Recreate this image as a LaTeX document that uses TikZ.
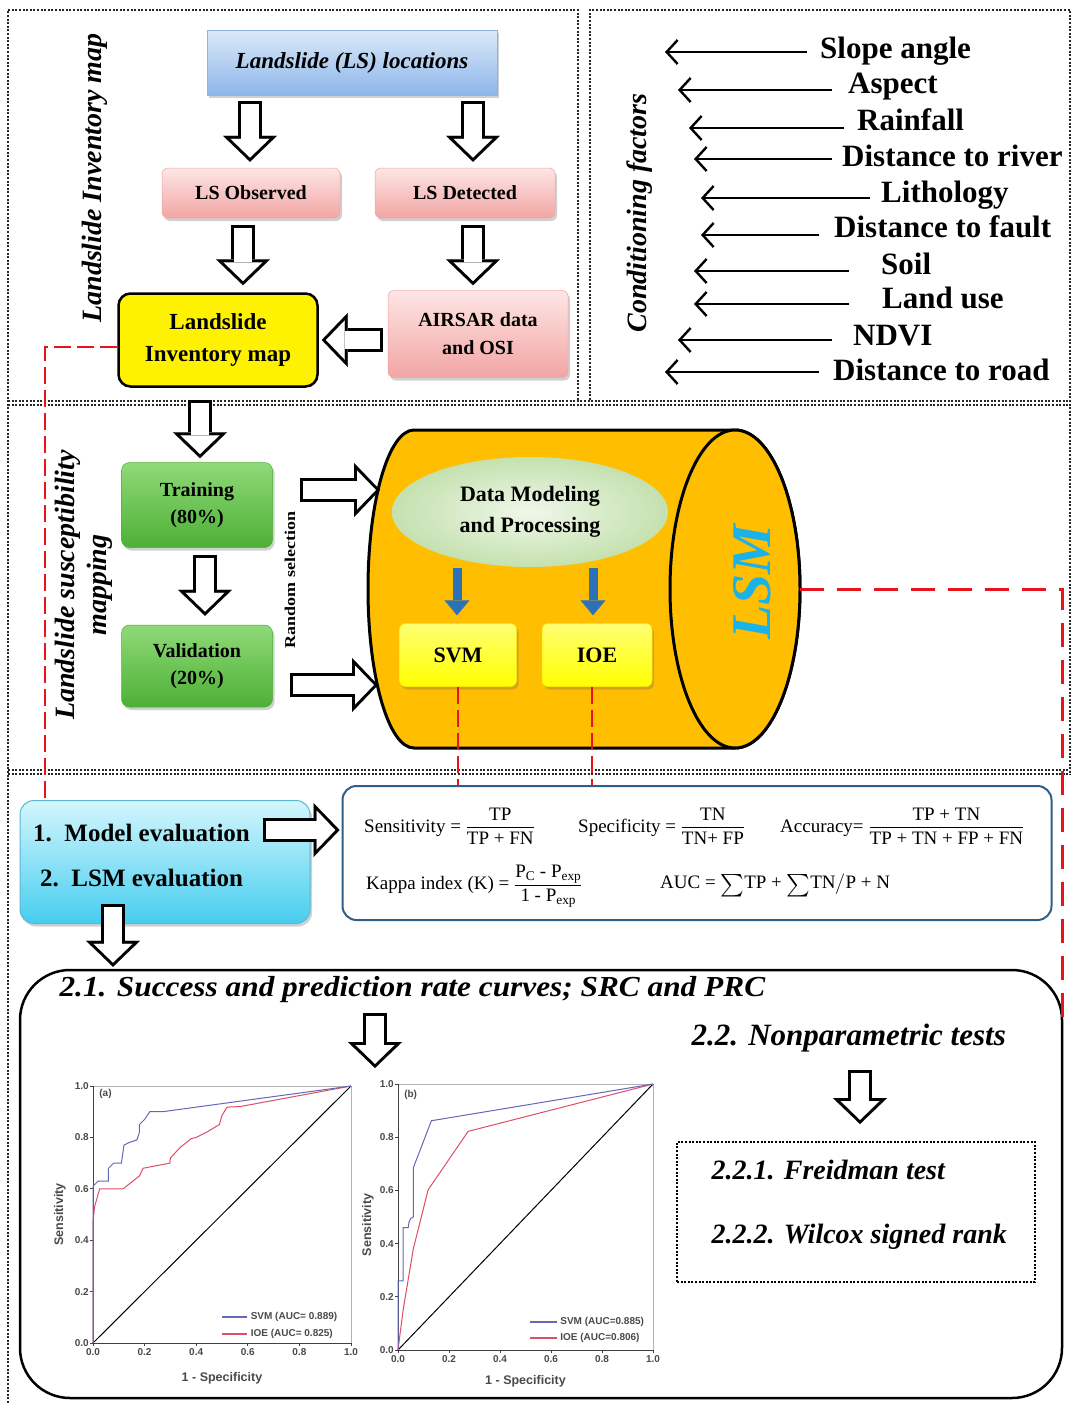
\documentclass[tikz,border=0pt]{standalone}
\usepackage{fontspec}
\setmainfont{Liberation Serif}
\setsansfont{Liberation Sans}
\usepackage{amsmath}
\usetikzlibrary{arrows.meta,shapes.geometric,shadows,calc}
\definecolor{blueT}{HTML}{DCE9F8}
\definecolor{blueB}{HTML}{8DB6EA}
\definecolor{blueD}{HTML}{8DB3E2}
\definecolor{pinkT}{HTML}{FDE6E5}
\definecolor{pinkB}{HTML}{F2A5A4}
\definecolor{greenT}{HTML}{8FDA78}
\definecolor{greenB}{HTML}{4DB036}
\definecolor{cyanT}{HTML}{D4F6FD}
\definecolor{cyanB}{HTML}{46CDEF}
\definecolor{cyanD}{HTML}{5AB8D3}
\definecolor{cylC}{HTML}{FFBF00}
\definecolor{lsmC}{HTML}{1AB2E8}
\definecolor{arrB}{HTML}{2C72B8}
\definecolor{redL}{HTML}{E8141B}
\definecolor{dmIn}{HTML}{F0F7E9}
\definecolor{dmOut}{HTML}{C4E1AF}
\definecolor{formD}{HTML}{2F5E88}
\definecolor{svmC}{HTML}{6468B8}
\definecolor{ioeC}{HTML}{DE4E66}
\definecolor{plotT}{HTML}{4A4A4A}
\newcommand\harr[2]{%
 \draw[line width=24pt,-{Triangle[length=26pt,width=54pt,line width=0.1pt]}] #1 -- #2;
 \draw[white,line width=18pt,-{Triangle[length=18.8pt,width=39pt,line width=0.1pt]},shorten <=3pt,shorten >=4.2pt] #1 -- #2;}
\newcommand\bigsum{\raisebox{-3pt}{\scalebox{1.3}{$\sum$}}}
\begin{document}
\begin{tikzpicture}[x=1pt,y=1pt,
 dotfr/.style={line width=2pt,dash pattern=on 2pt off 1.6pt,black!85},
 softshadow/.style={drop shadow={shadow xshift=2pt,shadow yshift=-3pt,opacity=0.3,fill=black!60}},
 pinkbox/.style={rounded corners=6pt,top color=pinkT,bottom color=pinkB,draw=pinkB,line width=0.5pt,softshadow,font=\fontsize{20}{28}\selectfont\bfseries,align=center,inner sep=0pt},
 greenbox/.style={rounded corners=8pt,top color=greenT,bottom color=greenB,draw=greenB,line width=0.5pt,softshadow,font=\fontsize{20}{27}\selectfont\bfseries,align=center,inner sep=0pt},
 yelbox/.style={rounded corners=6pt,top color=yellow!55,bottom color=yellow,draw=yellow!90!orange,line width=0.5pt,softshadow,font=\fontsize{22}{26}\selectfont\bfseries,inner sep=0pt},
 fact/.style={font=\fontsize{31}{34}\selectfont\bfseries,inner sep=0pt},
 farrow/.style={line width=2.4pt,-{Straight Barb[length=11pt,width=24pt,line width=2.4pt]}},
 redthin/.style={redL,line width=2pt,dash pattern=on 17pt off 6pt},
 redthick/.style={redL,line width=3pt,dash pattern=on 24pt off 13pt},
 bluearr/.style={arrB,line width=9pt,-{Triangle[length=15pt,width=25pt,line width=0.1pt]}},
 fml/.style={font=\fontsize{19}{22}\selectfont,inner sep=0pt},
 ticklab/.style={font=\sffamily\bfseries\fontsize{10}{12}\selectfont,text=plotT,inner sep=1pt},
 axlab/.style={font=\sffamily\bfseries\fontsize{12.5}{14}\selectfont,text=plotT,inner sep=0pt},
 leglab/.style={font=\sffamily\bfseries\fontsize{10}{12}\selectfont,text=plotT,anchor=west,inner sep=1pt},
]
\useasboundingbox (0,0) rectangle (1073,-1403);
\fill[white] (0,0) rectangle (1073,-1403);

% ---------- frames
\draw[dotfr] (8,-1403) -- (8,-10) -- (578,-10) -- (578,-400);
\draw[dotfr] (590,-400) -- (590,-10) -- (1070,-10) -- (1070,-775);
\foreach \yy in {401,405,770,774} \draw[dotfr] (8,-\yy) -- (1070,-\yy);

% ---------- top-left: inventory
\node[rotate=90,font=\fontsize{28}{32}\selectfont\bfseries\itshape] (tlab) at (95,-178) {Landslide Inventory map};
\node[minimum width=290pt,minimum height=65pt,top color=blueT,bottom color=blueB,draw=blueD,line width=0.6pt,softshadow,font=\fontsize{23}{26}\selectfont\bfseries\itshape,inner sep=0pt] (loc) at (352,-62.5) {Landslide (LS) locations};
\node[pinkbox,minimum width=178pt,minimum height=50pt] (obs) at (251,-193) {LS Observed};
\node[pinkbox,minimum width=180pt,minimum height=50pt] (det) at (465,-193) {LS Detected};
\node[pinkbox,minimum width=180pt,minimum height=87pt] (air) at (478,-334) {AIRSAR data\\and OSI};
\node[draw,line width=2.5pt,fill=yellow,rounded corners=12pt,minimum width=199pt,minimum height=93pt,align=center,font=\fontsize{23}{32}\selectfont\bfseries,inner sep=0pt] (inv) at (218,-340) {Landslide\\Inventory map};

\harr{($(loc.south -| obs.north)+(-1,-6)$)}{($(obs.north)+(-1,6)$)}
\harr{($(loc.south -| det.north)+(8,-6)$)}{($(det.north)+(8,6)$)}
\harr{($(obs.south)+(-8,-7)$)}{($(obs.south |- inv.north)+(-8,7)$)}
\harr{($(det.south)+(8,-7)$)}{($(det.south |- air.north)+(8,5)$)}
\harr{($(air.west |- inv.east)+(-5,0)$)}{($(inv.east)+(3,0)$)}

% ---------- top-right: conditioning factors
\node[rotate=90,font=\fontsize{28}{32}\selectfont\bfseries\itshape] (cf) at (640,-213) {Conditioning factors};
\foreach \t/\x/\b/\y/\l/\r [count=\i] in {Slope angle/820/58/52/665/807,Aspect/848/93/90/678/832,Rainfall/857/130/128/689/844,Distance to river/842/166/159/694/832,Lithology/881/202/198/701/870,Distance to fault/834/237/235/701/819,Soil/881/274/271/694/849,Land use/882/308/304/694/849,NDVI/853/345/340/678/832,Distance to road/833/380/372/665/819}{
 \node[fact,anchor=base west] (f\i) at (\x,-\b) {\t};
 \draw[farrow] ($(f\i.base west)+(\r-\x,\b-\y)$) -- ++(\l-\r,0);
}

% ---------- middle: susceptibility mapping
\node[rotate=90,align=center,font=\fontsize{28}{32}\selectfont\bfseries\itshape] (lsmlab) at (84,-585) {Landslide susceptibility\\mapping};
\node[greenbox,minimum width=151pt,minimum height=85pt] (train) at (197,-505) {Training\\(80\%)};
\node[greenbox,minimum width=151pt,minimum height=82pt] (valid) at (197,-666) {Validation\\(20\%)};
\node[rotate=90,font=\fontsize{15}{18}\selectfont\bfseries] (rs) at (290,-580) {\scalebox{1.2}[1]{Random selection}};

\draw[line width=3pt,fill=cylC] (414,-430) arc[start angle=90,end angle=270,x radius=46pt,y radius=159pt] -- (735,-748) arc[start angle=-90,end angle=90,x radius=65pt,y radius=159pt] -- cycle;
\draw[line width=3pt,fill=cylC] (735,-589) ellipse[x radius=65pt,y radius=159pt];
\coordinate (cylE) at (800,-589);
\coordinate (cylW1) at (380,-490);
\coordinate (cylW2) at (378,-685);

\node[ellipse,minimum width=276pt,minimum height=110pt,inner color=dmIn,outer color=dmOut,align=center,font=\fontsize{22}{31}\selectfont\bfseries,inner sep=0pt] (dm) at (530,-512) {Data Modeling\\and Processing};
\node[yelbox,minimum width=117pt,minimum height=63pt] (svm) at (458,-655) {SVM};
\node[yelbox,minimum width=110pt,minimum height=63pt] (ioe) at (597,-655) {IOE};
\draw[bluearr] ($(svm.north |- dm.south)+(-1,-1)$) -- ($(svm.north)+(-1,8)$);
\draw[bluearr] ($(ioe.north |- dm.south)+(-4,-1)$) -- ($(ioe.north)+(-4,8)$);
\node[rotate=90,text=lsmC,font=\fontsize{56}{60}\selectfont\bfseries\itshape] (lsm) at (752,-582) {LSM};

\harr{($(inv.south)+(-18,-12)$)}{($(train.north)+(3,4)$)}
\harr{($(train.south)+(8,-7)$)}{($(valid.north)+(8,9)$)}
\harr{($(train.east)+(27,15)$)}{(cylW1)}
\harr{($(valid.east)+(17,-19)$)}{(cylW2)}

% ---------- bottom: evaluation
\node[rounded corners=14pt,top color=cyanT,bottom color=cyanB,draw=cyanD,line width=1pt,minimum width=290pt,minimum height=123pt,softshadow] (evalbox) at (165,-862) {};
\node[anchor=west,font=\fontsize{25}{28}\selectfont\bfseries,inner sep=0pt] (ev1) at (33,-833) {1.\ \ Model evaluation};
\node[anchor=west,font=\fontsize{25}{28}\selectfont\bfseries,inner sep=0pt] (ev2) at (40,-878) {2.\ \ LSM evaluation};
\node[draw=formD,line width=2pt,rounded corners=14pt,minimum width=709pt,minimum height=134pt] (form) at (697,-853) {};
\node[fml,anchor=west] (sens) at (364,-826) {Sensitivity = $\dfrac{\text{TP}}{\text{TP + FN}}$};
\node[fml,anchor=west] (spec) at (578,-826) {Specificity = $\dfrac{\text{TN}}{\text{TN+ FP}}$};
\node[fml,anchor=west] (acc) at (780,-826) {Accuracy= $\dfrac{\text{TP + TN}}{\text{TP + TN + FP + FN}}$};
\node[fml,anchor=west] (kap) at (366,-886) {Kappa index (K) = $\dfrac{\text{P\textsubscript{C} - P\textsubscript{exp}}}{\text{1 - P\textsubscript{exp}}}$};
\node[fml,anchor=west] (auc) at (660,-885) {AUC = \bigsum TP + \bigsum TN$\big/$P + N};
\harr{($(evalbox.east)+(-48,32)$)}{($(form.west)+(-2,23)$)}

\node[draw,line width=2.5pt,rounded corners=50pt,minimum width=1042pt,minimum height=428pt,inner sep=0pt] (bb) at (541,-1184) {};
\harr{($(evalbox.south)+(-52,20)$)}{($(bb.north -| evalbox.south)+(-52,2)$)}

% ---------- red dashed links
\coordinate (rl) at (45,-347);
\coordinate (bbR) at (1062,-1030);
\draw[redthin] ($(inv.west)+(0,-7)$) -- (rl) -- (rl |- evalbox.north);
\draw[redthin] (svm.south) -- (svm.south |- form.north);
\draw[redthin] ($(ioe.south)+(-5,0)$) -- ($(ioe.south |- form.north)+(-5,0)$);
\draw[redthick] (cylE) -| (bbR);

% ---------- bottom box contents
\node[anchor=west,font=\fontsize{29}{32}\selectfont\bfseries\itshape] (src) at (56,-990) {\scalebox{1.08}[1]{2.1. Success and prediction rate curves; SRC and PRC}};
\coordinate (pa) at (375,-1068);
\harr{($(pa |- src.south)+(0,-6)$)}{(pa)}
\node[anchor=west,font=\fontsize{31}{34}\selectfont\bfseries\itshape] (np22) at (688,-1038) {2.2. Nonparametric tests};
\node[draw,line width=2pt,dash pattern=on 2pt off 1.6pt,minimum width=358pt,minimum height=140pt] (npb) at (856,-1212) {};
\harr{($(npb.north |- np22.south)+(4,-14)$)}{($(npb.north)+(4,17)$)}
\node[anchor=west,font=\fontsize{28}{32}\selectfont\bfseries\itshape] (t221) at (708,-1170) {2.2.1. Freidman test};
\node[anchor=west,font=\fontsize{28}{32}\selectfont\bfseries\itshape] (t222) at (708,-1237) {2.2.2. Wilcox signed rank};

% ---------- plot (a)
\begin{scope}[shift={(93,-1343)},x=258pt,y=257pt]
 \draw[gray!60,line width=0.8pt] (0,1) -- (1,1) -- (1,0);
 \draw[black!75,line width=1pt] (0,1) -- (0,0) -- (1,0);
 \foreach \v/\l [count=\k] in {0/0.0,0.2/0.2,0.4/0.4,0.6/0.6,0.8/0.8,1/1.0}{
  \draw[black!75,line width=0.8pt] (0,\v) -- ++(-3pt,0);
  \draw[black!75,line width=0.8pt] (\v,0) -- ++(0,-3pt);
  \node[ticklab,anchor=east] (ay\k) at ([xshift=-3pt]0,\v) {\l};
  \node[ticklab,anchor=north] (ax\k) at ([yshift=-4pt]\v,0) {\l};
 }
 \draw[black,line width=1pt] (0,0) -- (1,1);
 \draw[ioeC,line width=1pt] plot coordinates {(0,0) (0,0.47) (0.006,0.53) (0.026,0.6) (0.117,0.6) (0.142,0.62) (0.18,0.65) (0.194,0.68) (0.246,0.69) (0.298,0.70) (0.30,0.72) (0.337,0.76) (0.38,0.795) (0.4,0.8) (0.44,0.82) (0.49,0.85) (0.5,0.886) (0.52,0.918) (0.57,0.92) (1,1)};
 \draw[svmC,line width=1pt] plot coordinates {(0,0) (0,0.61) (0.01,0.62) (0.02,0.63) (0.06,0.63) (0.06,0.68) (0.08,0.70) (0.11,0.70) (0.12,0.77) (0.14,0.78) (0.17,0.79) (0.18,0.82) (0.18,0.85) (0.2,0.87) (0.22,0.9) (0.27,0.9) (1,1)};
 \node[ticklab,anchor=west] (alab) at (0.02,0.97) {(a)};
 \node[axlab,rotate=90] (asens) at ([xshift=-33pt]0,0.5) {Sensitivity};
 \node[axlab] (aspec) at ([yshift=-35pt]0.5,0) {1 - Specificity};
 \draw[svmC,line width=1.5pt] (0.5,0.101) -- (0.597,0.101);
 \draw[ioeC,line width=1.5pt] (0.5,0.035) -- (0.597,0.035);
 \node[leglab] (la1) at (0.607,0.101) {SVM (AUC= 0.889)};
 \node[leglab] (la2) at (0.607,0.035) {IOE (AUC= 0.825)};
\end{scope}

% ---------- plot (b)
\begin{scope}[shift={(398,-1350)},x=255pt,y=266pt]
 \draw[gray!60,line width=0.8pt] (0,1) -- (1,1) -- (1,0);
 \draw[black!75,line width=1pt] (0,1) -- (0,0) -- (1,0);
 \foreach \v/\l [count=\k] in {0/0.0,0.2/0.2,0.4/0.4,0.6/0.6,0.8/0.8,1/1.0}{
  \draw[black!75,line width=0.8pt] (0,\v) -- ++(-3pt,0);
  \draw[black!75,line width=0.8pt] (\v,0) -- ++(0,-3pt);
  \node[ticklab,anchor=east] (by\k) at ([xshift=-3pt]0,\v) {\l};
  \node[ticklab,anchor=north] (bx\k) at ([yshift=-4pt]\v,0) {\l};
 }
 \draw[black,line width=1pt] (0,0) -- (1,1);
 \draw[ioeC,line width=1pt] plot coordinates {(0,0) (0.02,0.15) (0.06,0.38) (0.118,0.602) (0.275,0.822) (1,1)};
 \draw[svmC,line width=1pt] plot coordinates {(0,0) (0,0.26) (0.02,0.26) (0.02,0.46) (0.04,0.46) (0.043,0.48) (0.05,0.495) (0.06,0.5) (0.06,0.685) (0.131,0.862) (1,1)};
 \node[ticklab,anchor=west] (blab) at (0.02,0.96) {(b)};
 \node[axlab,rotate=90] (bsens) at ([xshift=-30pt]0,0.47) {Sensitivity};
 \node[axlab] (bspec) at ([yshift=-31pt]0.5,0) {1 - Specificity};
 \draw[svmC,line width=1.5pt] (0.518,0.105) -- (0.624,0.105);
 \draw[ioeC,line width=1.5pt] (0.518,0.045) -- (0.624,0.045);
 \node[leglab] (lb1) at (0.632,0.105) {SVM (AUC=0.885)};
 \node[leglab] (lb2) at (0.632,0.045) {IOE (AUC=0.806)};
\end{scope}
\end{tikzpicture}
\end{document}
